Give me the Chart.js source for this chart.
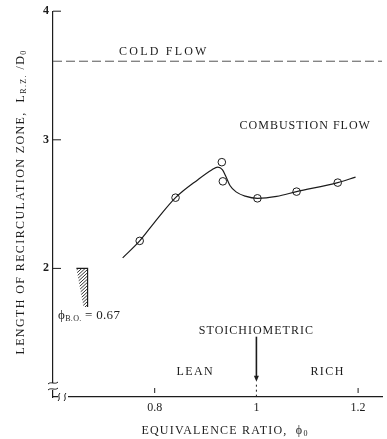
<!DOCTYPE html>
<html>
<head>
<meta charset="utf-8">
<script src="https://cdn.jsdelivr.net/npm/chart.js@4"></script>
<style>
  html, body { margin: 0; padding: 0; background: #fff; }
  #wrap { width: 387px; height: 439px; }
</style>
</head>
<body>
<div id="wrap"><canvas id="chart" width="387" height="439"></canvas></div>
<script>
const curvePhi = [0.737, 0.7705, 0.80, 0.841, 0.885, 0.912, 0.924, 0.933, 0.940, 0.948, 0.960, 0.978, 1.002, 1.04, 1.079, 1.16, 1.195];
const curveLength = [2.082, 2.214, 2.36, 2.55, 2.69, 2.765, 2.788, 2.768, 2.715, 2.645, 2.595, 2.562, 2.545, 2.56, 2.597, 2.667, 2.71];

// measured points (open circles)
const pointPhi = [0.7705, 0.841, 0.932, 0.934, 1.002, 1.079, 1.16];
const pointLength = [2.214, 2.55, 2.826, 2.677, 2.545, 2.597, 2.667];

// cold flow level
const coldFlowPhi = [0.6, 1.247];
const coldFlowLength = [3.611, 3.611];

// blow-off limit, phi = 0.67
const blowOffPhi = [0.646, 0.668, 0.668];
const blowOffLength = [2, 2, 1.70];

const xTicks = [0.8, 1.0, 1.2];
const xTickLabels = ['0.8', '1', '1.2'];
const yTicks = [2, 3, 4];
const yTickLabels = ['2', '3', '4'];

const ink = '#1c1c1c';
const serif = "'Liberation Serif', 'DejaVu Serif', serif";

const toXY = (xs, ys) => xs.map((v, i) => ({ x: v, y: ys[i] }));

// draws a run of text pieces [text, size, dy], e.g. for subscripts
function richText(ctx, parts, x, y, align) {
  const widths = parts.map(p => {
    ctx.font = p[1] + 'px ' + serif;
    return ctx.measureText(p[0]).width;
  });
  const total = widths.reduce((a, b) => a + b, 0);
  let cx = align === 'center' ? x - total / 2 : x;
  parts.forEach((p, i) => {
    ctx.font = p[1] + 'px ' + serif;
    ctx.fillText(p[0], cx, y + (p[2] || 0));
    cx += widths[i];
  });
}

const decorations = {
  id: 'decorations',
  afterDraw(chart) {
    const { ctx, chartArea } = chart;
    const x = chart.scales.x, y = chart.scales.y;
    const axisX = chartArea.left, axisY = chartArea.bottom;
    ctx.save();
    ctx.strokeStyle = ink;
    ctx.fillStyle = ink;
    ctx.lineWidth = 1;

    // inner tick marks
    yTicks.forEach(v => {
      const py = y.getPixelForValue(v);
      ctx.beginPath(); ctx.moveTo(axisX, py); ctx.lineTo(axisX + 8, py); ctx.stroke();
    });
    [0.8, 1.2].forEach(v => {
      const px = x.getPixelForValue(v);
      ctx.beginPath(); ctx.moveTo(px, axisY - 9); ctx.lineTo(px, axisY - 4); ctx.stroke();
    });

    // hatched blow-off region
    const hx0 = x.getPixelForValue(blowOffPhi[0]);
    const hx1 = x.getPixelForValue(blowOffPhi[1]);
    const hy0 = y.getPixelForValue(blowOffLength[0]);
    const hy1 = y.getPixelForValue(blowOffLength[2]);
    ctx.save();
    ctx.beginPath();
    ctx.moveTo(hx0, hy0); ctx.lineTo(hx1, hy0); ctx.lineTo(hx1, hy1); ctx.lineTo(hx1 - 4, hy1);
    ctx.closePath();
    ctx.clip();
    ctx.lineWidth = 0.9;
    for (let k = hy0 - 20; k < hy1 + 20; k += 3.2) {
      ctx.beginPath(); ctx.moveTo(hx0 - 2, k + 14); ctx.lineTo(hx1 + 2, k); ctx.stroke();
    }
    ctx.restore();

    // stoichiometric arrow
    const sx = x.getPixelForValue(1.0);
    const sTop = y.getPixelForValue(1.469);
    const sTip = y.getPixelForValue(1.119);
    ctx.lineWidth = 1.6;
    ctx.beginPath(); ctx.moveTo(sx, sTop); ctx.lineTo(sx, sTip - 5); ctx.stroke();
    ctx.beginPath(); ctx.moveTo(sx - 2.5, sTip - 6); ctx.lineTo(sx + 2.5, sTip - 6); ctx.lineTo(sx, sTip); ctx.closePath(); ctx.fill();
    ctx.lineWidth = 1;
    ctx.setLineDash([2, 3]);
    ctx.beginPath(); ctx.moveTo(sx, sTip + 3); ctx.lineTo(sx, axisY - 1); ctx.stroke();
    ctx.setLineDash([]);

    // axis breaks
    ctx.fillStyle = '#fff';
    ctx.fillRect(axisX - 3, axisY - 14, 6, 7);
    ctx.fillRect(axisX + 5, axisY - 2, 10, 4);
    ctx.lineWidth = 1;
    [axisY - 14, axisY - 8].forEach(py => {
      ctx.beginPath();
      ctx.moveTo(axisX - 5, py + 1);
      ctx.bezierCurveTo(axisX - 2, py - 2, axisX + 2, py + 2, axisX + 5, py - 1);
      ctx.stroke();
    });
    [axisX + 6, axisX + 12].forEach(px => {
      ctx.beginPath();
      ctx.moveTo(px + 1, axisY - 4);
      ctx.bezierCurveTo(px - 2, axisY - 1, px + 2, axisY + 1, px - 1, axisY + 4);
      ctx.stroke();
    });

    // labels
    ctx.fillStyle = ink;
    ctx.textBaseline = 'middle';
    ctx.textAlign = 'left';
    ctx.letterSpacing = '2.2px';
    richText(ctx, [['COLD FLOW', 12]], x.getPixelForValue(0.818), y.getPixelForValue(3.681), 'center');
    ctx.letterSpacing = '1px';
    richText(ctx, [['COMBUSTION FLOW', 12]], x.getPixelForValue(1.096), y.getPixelForValue(3.106), 'center');
    richText(ctx, [['STOICHIOMETRIC', 12]], x.getPixelForValue(1.0), y.getPixelForValue(1.513), 'center');
    ctx.letterSpacing = '1.4px';
    richText(ctx, [['LEAN', 12]], x.getPixelForValue(0.880), y.getPixelForValue(1.194), 'center');
    richText(ctx, [['RICH', 12]], x.getPixelForValue(1.140), y.getPixelForValue(1.194), 'center');
    ctx.letterSpacing = '0.3px';
    richText(ctx, [['\u03D5', 13], ['B.O.', 8, 3], [' = 0.67', 13]], x.getPixelForValue(0.610), y.getPixelForValue(1.63), 'left');

    // axis titles
    ctx.letterSpacing = '1.2px';
    richText(ctx, [['EQUIVALENCE RATIO,  \u03D5', 12], ['0', 8, 3]], 225, 431, 'center');
    ctx.save();
    ctx.translate(21, 202);
    ctx.rotate(-Math.PI / 2);
    ctx.letterSpacing = '1.4px';
    richText(ctx, [['LENGTH OF RECIRCULATION ZONE,  L', 12], ['R.Z.', 8, 3], [' /D', 12], ['0', 8, 3]], 0, 0, 'center');
    ctx.restore();

    ctx.restore();
  }
};

new Chart(document.getElementById('chart'), {
  type: 'scatter',
  data: {
    datasets: [
      {
        data: toXY(coldFlowPhi, coldFlowLength),
        showLine: true,
        borderColor: '#555',
        borderWidth: 1,
        borderDash: [9, 4],
        pointRadius: 0
      },
      {
        data: toXY(curvePhi, curveLength),
        showLine: true,
        borderColor: ink,
        borderWidth: 1.2,
        cubicInterpolationMode: 'monotone',
        pointRadius: 0
      },
      {
        data: toXY(blowOffPhi, blowOffLength),
        showLine: true,
        borderColor: ink,
        borderWidth: 1.2,
        pointRadius: 0
      },
      {
        data: toXY(pointPhi, pointLength),
        pointRadius: 3.8,
        pointBackgroundColor: '#fff',
        pointBorderColor: ink,
        pointBorderWidth: 1
      }
    ]
  },
  options: {
    responsive: false,
    animation: false,
    layout: { padding: { top: 11, right: 0, bottom: 0, left: 0 } },
    plugins: {
      legend: { display: false },
      tooltip: { enabled: false }
    },
    scales: {
      x: {
        type: 'linear',
        min: 0.6,
        max: 1.247,
        afterBuildTicks: s => { s.ticks = xTicks.map(v => ({ value: v })); },
        afterFit: s => { s.height = 42; },
        ticks: {
          callback: (v, i) => xTickLabels[i],
          font: { family: serif, size: 12 },
          color: ink,
          padding: 4,
          maxRotation: 0,
          autoSkip: false
        },
        grid: { display: false, drawTicks: false },
        border: { color: ink, width: 1.2 }
      },
      y: {
        type: 'linear',
        min: 1,
        max: 4,
        afterBuildTicks: s => { s.ticks = yTicks.map(v => ({ value: v })); },
        afterFit: s => { s.width = 53; },
        ticks: {
          callback: (v, i) => yTickLabels[i],
          font: { family: serif, size: 12, weight: 'bold' },
          color: ink,
          padding: 4,
          autoSkip: false
        },
        grid: { display: false, drawTicks: false },
        border: { color: ink, width: 1.2 }
      }
    }
  },
  plugins: [decorations]
});
</script>
</body>
</html>
